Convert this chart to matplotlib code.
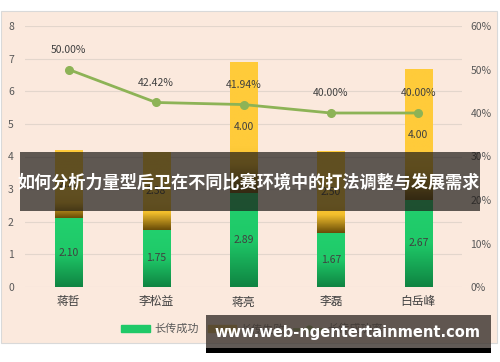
import numpy as np
import matplotlib.pyplot as plt
from matplotlib.patches import Rectangle
from matplotlib.colors import LinearSegmentedColormap
from matplotlib.lines import Line2D

plt.rcParams['font.family'] = ['Noto Sans CJK SC', 'DejaVu Sans']

players = ['蒋哲', '李松益', '蒋亮', '李磊', '白岳峰']
success = [2.10, 1.75, 2.89, 1.67, 2.67]
fail = [2.10, 2.38, 4.00, 2.50, 4.00]
rate = [0.50, 0.4242, 0.4194, 0.40, 0.40]

W, H = 500, 362
fig = plt.figure(figsize=(W / 100, H / 100), dpi=100)
fig.patch.set_facecolor('white')


def fx(px):
    return px / W


def fy(py):
    return 1 - py / H


# chart area background
fig.patches.append(Rectangle((fx(1), fy(343)), fx(497) - fx(1), fy(11) - fy(343),
                             transform=fig.transFigure, facecolor='#FBE9DD',
                             edgecolor='#D9D9D9', lw=0.8, zorder=-5))

ax = fig.add_axes([fx(25), fy(287), fx(462) - fx(25), fy(26) - fy(287)])
ax.set_facecolor('none')
x = np.arange(len(players))
bw = 0.31

green_cm = LinearSegmentedColormap.from_list('g', ['#0F8442', '#1FC968', '#22D06E'])
yellow_cm = LinearSegmentedColormap.from_list('y', [(0, '#6B4E08'), (0.22, '#F2BE2C'), (0.35, '#FFCB3A'), (1, '#FFCB3A')])

gbars = ax.bar(x, success, bw, color='#1FC968', zorder=2)
ybars = ax.bar(x, fail, bw, bottom=success, color='#FFCB3A', zorder=2)

grad = np.linspace(0, 1, 100).reshape(-1, 1)
for bars, cm in ((gbars, green_cm), (ybars, yellow_cm)):
    for p in bars:
        x0, y0 = p.get_x(), p.get_y()
        im = ax.imshow(grad, cmap=cm, origin='lower', aspect='auto', zorder=2.5,
                       extent=[x0, x0 + p.get_width(), y0, y0 + p.get_height()])
        im.set_clip_path(p)

for i in range(len(players)):
    ax.text(x[i], success[i] / 2, f'{success[i]:.2f}', ha='center', va='center',
            fontsize=7.5, color='#404040', zorder=4)
    ax.text(x[i], success[i] + fail[i] / 2, f'{fail[i]:.2f}', ha='center', va='center',
            fontsize=7.5, color='#404040', zorder=4)

ax.set_xlim(-0.5, 4.5)
ax.set_ylim(0, 8)
ax.set_yticks(range(0, 9))
ax.yaxis.grid(True, color='#E3D6CC', lw=0.8)
ax.set_axisbelow(True)
for s in ax.spines.values():
    s.set_visible(False)
ax.tick_params(length=0, labelsize=7.5, labelcolor='#595959')
ax.tick_params(axis='y', pad=8)
ax.set_xticks(x)
ax.set_xticklabels(players, fontsize=8.5, color='#404040')
ax.tick_params(axis='x', pad=6)

ax2 = ax.twinx()
ax2.set_ylim(0, 0.6)
ax2.set_yticks(np.arange(0, 0.61, 0.1))
ax2.set_yticklabels([f'{int(round(v * 100))}%' for v in np.arange(0, 0.61, 0.1)])
ax2.tick_params(length=0, labelsize=7.5, labelcolor='#595959', pad=6)
for s in ax2.spines.values():
    s.set_visible(False)
ax2.plot(x, rate, color='#8DB356', lw=2, marker='o', markersize=5.5, zorder=5)
for i in range(len(players)):
    ax2.annotate(f'{rate[i] * 100:.2f}%', (x[i], rate[i]), xytext=(0, 12),
                 textcoords='offset points', ha='center', fontsize=7.5, color='#404040')

# legend
handles = [Rectangle((0, 0), 1, 1, color='#1FC968'),
           Rectangle((0, 0), 1, 1, color='#E0B030'),
           Line2D([], [], color='#8DB356', lw=2, marker='o', markersize=5)]
fig.legend(handles, ['长传成功', '长传失败', '长传成功率'], loc='center',
           bbox_to_anchor=(fx(252), fy(329)), ncol=3, frameon=False,
           fontsize=8, labelcolor='#595959', handlelength=2.6, handleheight=0.6,
           columnspacing=0.8, handletextpad=0.4)

# title overlay band
fig.patches.append(Rectangle((fx(20), fy(211)), fx(480) - fx(20), fy(152) - fy(211),
                             transform=fig.transFigure, facecolor='#1D1A17',
                             alpha=0.7, lw=0, zorder=10))
fig.text(fx(249), fy(183), '如何分析力量型后卫在不同比赛环境中的打法调整与发展需求',
         ha='center', va='center', fontsize=12.3, fontweight='bold', color='white', zorder=11)

# watermark
fig.patches.append(Rectangle((fx(206), fy(348)), fx(491) - fx(206), fy(315) - fy(348),
                             transform=fig.transFigure, facecolor='#3E3631',
                             alpha=0.82, lw=0, zorder=10))
fig.patches.append(Rectangle((fx(206), fy(353)), fx(491) - fx(206), fy(348) - fy(353),
                             transform=fig.transFigure, facecolor='black', lw=0, zorder=10))
fig.text(fx(347), fy(333), 'www.web-ngentertainment.com', ha='center', va='center',
         fontsize=10.5, fontweight='bold', color='white', family='DejaVu Sans', zorder=11)

fig.savefig('out.png', dpi=100)
